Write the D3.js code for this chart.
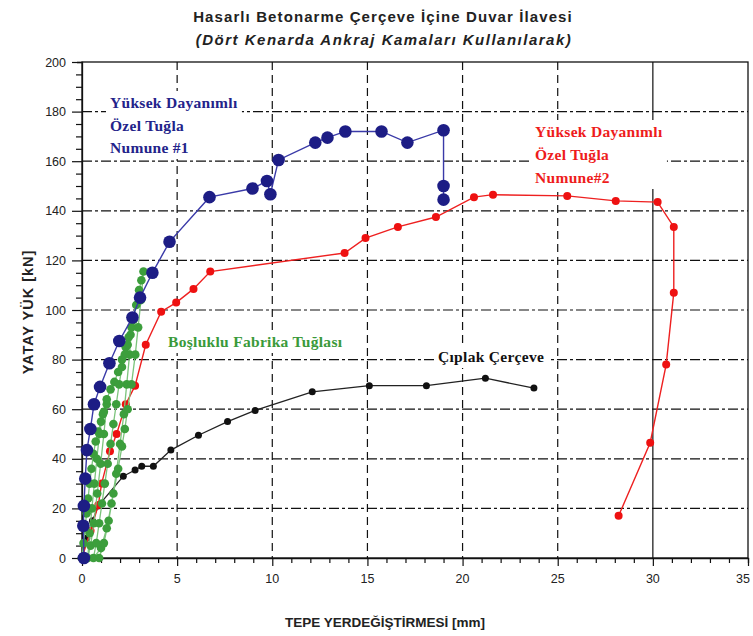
<!DOCTYPE html>
<html>
<head>
<meta charset="utf-8">
<script src="https://cdn.jsdelivr.net/npm/d3@7"></script>
<style>
  body { margin: 0; background: #fff; }
  svg { display: block; }
</style>
</head>
<body>
<div id="viz"></div>
<script>
// values
let x_ticks = [0, 5, 10, 15, 20, 25, 30, 35];
let y_ticks = [0, 20, 40, 60, 80, 100, 120, 140, 160, 180, 200];

let numune1 = [[0.1, 0], [0.07, 13], [0.1, 21], [0.17, 32], [0.26, 43.5], [0.44, 52], [0.63, 62], [0.95, 69], [1.44, 78.5], [1.96, 87.5], [2.65, 97], [3.05, 105], [3.7, 115], [4.6, 127.5], [6.7, 145.5], [8.96, 149], [9.72, 152], [9.9, 146.7], [10.33, 160.5], [12.26, 167.5], [12.9, 169.5], [13.84, 172], [15.74, 172], [17.1, 167.5], [19.0, 172.5], [19.0, 150], [19.0, 144.5]];

let numune2 = [[0, 0], [0.45, 11], [0.86, 21.4], [1.03, 30], [1.47, 43], [1.82, 50], [2.3, 62], [2.79, 69.5], [3.35, 86], [4.16, 99.3], [4.95, 103], [5.86, 108.5], [6.74, 115.5], [13.8, 123], [14.9, 129], [16.6, 133.5], [18.6, 137.5], [20.6, 145.5], [21.6, 146.5], [25.5, 146], [28.05, 144], [30.25, 143.5], [31.1, 133.5], [31.1, 107], [30.7, 78], [29.86, 46.5], [28.2, 17]];

let ciplak = [[0, 0], [0.25, 8], [0.55, 15], [0.86, 21], [2.17, 33], [2.79, 35.5], [3.14, 37], [3.75, 37], [4.67, 43.5], [6.12, 49.5], [7.65, 55], [9.1, 59.5], [12.1, 67], [15.1, 69.5], [18.1, 69.5], [21.2, 72.5], [23.75, 68.5]];

let bosluklu = [[0, 0], [0.08, 6], [0.16, 12], [0.24, 18], [0.32, 24], [0.4, 30], [0.5, 36], [0.6, 42], [0.72, 47], [0.85, 51], [1.0, 55], [1.15, 59], [1.3, 62],
  [1.15, 50], [0.98, 38], [0.8, 26], [0.62, 14], [0.45, 5], [0.3, 0],
  [0.4, 10], [0.52, 20], [0.65, 30], [0.78, 40], [0.92, 50], [1.1, 58], [1.3, 64], [1.5, 68], [1.7, 71], [1.9, 75], [2.1, 80], [2.3, 85], [2.45, 89], [2.6, 93],
  [2.5, 82], [2.35, 70], [2.2, 58], [2.0, 46], [1.8, 34], [1.55, 22], [1.3, 12], [1.0, 4], [0.6, 0],
  [0.75, 6], [0.9, 14], [1.05, 22], [1.2, 30], [1.35, 38], [1.5, 46], [1.65, 54], [1.8, 62], [1.95, 70], [2.1, 77], [2.25, 82], [2.4, 86], [2.55, 90], [2.7, 96], [2.85, 102], [3.0, 108], [3.12, 112], [3.23, 115.5],
  [3.1, 104], [2.95, 93], [2.8, 82], [2.6, 70], [2.4, 60], [2.25, 52], [2.1, 45], [1.9, 36], [1.65, 26], [1.4, 15], [1.15, 6], [0.9, 0]];

let title = 'Hasarlı Betonarme Çerçeve İçine Duvar İlavesi';
let subtitle = '(Dört Kenarda Ankraj Kamaları Kullanılarak)';
let x_title = 'TEPE YERDEĞİŞTİRMESİ [mm]';
let y_title = 'YATAY YÜK [kN]';

window.onload = function () {
    draw()
}

function draw() {
    const width = 753, height = 636;
    const left = 82, right = 748, top = 62, bottom = 558;

    const x = d3.scaleLinear().domain([0, 35]).range([left, right]);
    const y = d3.scaleLinear().domain([0, 200]).range([bottom, top]);

    const svg = d3.select('#viz').append('svg')
        .attr('width', width)
        .attr('height', height);

    const font = 'Liberation Sans, Arial, sans-serif';
    const serif = 'Liberation Serif, Times New Roman, serif';

    // grid lines
    svg.append('g').selectAll('line')
        .data(y_ticks.filter(d => d > 0 && d < 200))
        .join('line')
        .attr('x1', left).attr('x2', right)
        .attr('y1', d => y(d)).attr('y2', d => y(d))
        .attr('stroke', '#111').attr('stroke-width', 1.2)
        .attr('stroke-dasharray', '10,3,3,3');

    svg.append('g').selectAll('line')
        .data(x_ticks.filter(d => d > 0 && d < 35))
        .join('line')
        .attr('x1', d => x(d)).attr('x2', d => x(d))
        .attr('y1', top).attr('y2', bottom)
        .attr('stroke', '#111').attr('stroke-width', 1.2)
        .attr('stroke-dasharray', d => d === 30 ? null : '8,5');

    // frame
    svg.append('rect')
        .attr('x', left).attr('y', top)
        .attr('width', right - left).attr('height', bottom - top)
        .attr('fill', 'none').attr('stroke', '#111').attr('stroke-width', 1.3);

    // axes
    const xAxis = d3.axisBottom(x).tickValues(d3.range(0, 36, 1)).tickSize(5).tickFormat('');
    svg.append('g').attr('transform', 'translate(0,' + bottom + ')').call(xAxis)
        .call(g => g.select('.domain').attr('stroke', '#111').attr('stroke-width', 1.3))
        .call(g => g.selectAll('.tick line').attr('stroke', '#111').attr('stroke-width', 1.2)
            .attr('y2', d => d % 5 === 0 ? 8 : 5));
    svg.append('g').selectAll('text')
        .data(x_ticks)
        .join('text')
        .attr('x', d => d === 35 ? x(d) - 5 : x(d)).attr('y', 583)
        .attr('text-anchor', 'middle')
        .attr('font-family', font).attr('font-size', 12.5).attr('fill', '#222')
        .text(d => d);

    const yAxis = d3.axisLeft(y).tickValues(d3.range(0, 201, 5)).tickSize(5).tickFormat('');
    svg.append('g').attr('transform', 'translate(' + left + ',0)').call(yAxis)
        .call(g => g.select('.domain').attr('stroke', '#111').attr('stroke-width', 1.3))
        .call(g => g.selectAll('.tick line').attr('stroke', '#111').attr('stroke-width', 1.2)
            .attr('x2', d => d % 20 === 0 ? -10 : -6));
    svg.append('g').selectAll('text')
        .data(y_ticks)
        .join('text')
        .attr('x', 66).attr('y', d => y(d) + 4.5)
        .attr('text-anchor', 'end')
        .attr('font-family', font).attr('font-size', 12.5).attr('fill', '#222')
        .text(d => d);

    // labels with white boxes covering the grid
    function label(lines, x0, y0, color, size, gap) {
        const g = svg.append('g');
        const bg = g.append('rect').attr('fill', '#fff');
        g.selectAll('text').data(lines).join('text')
            .attr('x', x0).attr('y', (d, i) => y0 + i * gap)
            .attr('font-family', serif).attr('font-weight', 'bold')
            .attr('font-size', size).attr('letter-spacing', 0.3).attr('fill', color)
            .text(d => d);
        const b = g.node().getBBox();
        bg.attr('x', b.x - 4).attr('y', b.y - 3).attr('width', b.width + 8).attr('height', b.height + 6);
    }

    label(['Yüksek Dayanımlı', 'Özel Tuğla', 'Numune #1'], 110, 108, '#23238a', 15.5, 22.5);
    label(['Yüksek Dayanımlı', 'Özel Tuğla', 'Numune#2'], 535, 137, '#ee1c1c', 15.5, 23);
    label(['Boşluklu Fabrika Tuğlası'], 168, 347, '#3a9a3a', 15.5, 0);
    label(['Çıplak Çerçeve'], 438, 362, '#111', 15.5, 0);

    const line = d3.line().x(d => x(d[0])).y(d => y(d[1]));

    // series
    function series(data, stroke, fill, r, sw) {
        const g = svg.append('g');
        g.append('path').datum(data)
            .attr('d', line).attr('fill', 'none')
            .attr('stroke', stroke).attr('stroke-width', sw);
        g.selectAll('circle').data(data).join('circle')
            .attr('cx', d => x(d[0])).attr('cy', d => y(d[1]))
            .attr('r', r).attr('fill', fill);
    }

    series(ciplak, '#222', '#111', 3.5, 1.3);
    series(numune2, '#ee2020', '#ee1111', 4, 1.4);
    series(bosluklu, '#7cc47c', '#3c9e3c', 4.3, 1.3);
    series(numune1, '#3a3aa8', '#1d1d85', 6.3, 1.4);

    // titles
    svg.append('text')
        .attr('x', 383).attr('y', 22)
        .attr('text-anchor', 'middle')
        .attr('font-family', font).attr('font-weight', 'bold').attr('font-size', 15)
        .attr('letter-spacing', 1.1)
        .attr('fill', '#222')
        .text(title);
    svg.append('text')
        .attr('x', 384).attr('y', 45)
        .attr('text-anchor', 'middle')
        .attr('font-family', font).attr('font-weight', 'bold').attr('font-style', 'italic')
        .attr('font-size', 15).attr('letter-spacing', 1.5).attr('fill', '#222')
        .text(subtitle);

    svg.append('text')
        .attr('x', 385).attr('y', 627)
        .attr('text-anchor', 'middle')
        .attr('font-family', font).attr('font-weight', 'bold').attr('font-size', 13.5)
        .attr('fill', '#222')
        .text(x_title);

    svg.append('text')
        .attr('transform', 'translate(33,312) rotate(-90)')
        .attr('text-anchor', 'middle')
        .attr('font-family', font).attr('font-weight', 'bold').attr('font-size', 14.5)
        .attr('letter-spacing', 1)
        .attr('fill', '#222')
        .text(y_title);
}
</script>
</body>
</html>
